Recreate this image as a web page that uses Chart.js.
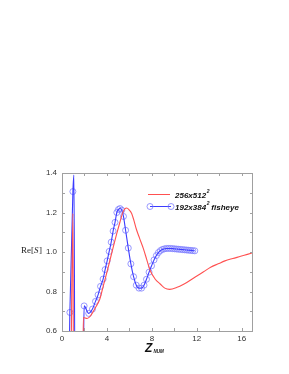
<!DOCTYPE html>
<html>
<head>
<meta charset="utf-8">
<script src="https://cdn.jsdelivr.net/npm/chart.js@4.4.1/dist/chart.umd.min.js"></script>
<style>
  html, body { margin: 0; padding: 0; background: #fff; }
  #wrap { position: relative; width: 289px; height: 374px; }
</style>
</head>
<body>
<div id="wrap"><canvas id="c" width="289" height="374"></canvas></div>
<script>
// 256x512^2 run (red, no markers); values below 0.6 run off the bottom of the plot
const redX = [0.80, 0.97, 1.02, 1.86, 1.90, 2.23, 2.53, 3.06, 3.36, 3.66, 3.96, 4.26, 4.56, 4.86, 5.16, 5.40, 5.61, 5.76, 5.95, 6.20, 6.40, 6.62, 6.90, 7.25, 7.55, 7.85, 8.30, 8.74, 9.15, 9.58, 10.24, 10.70, 11.14, 12.04, 12.60, 13.23, 13.90, 14.50, 15.20, 15.90, 16.50, 17.00];
const redY = [0.40, 1.195, 0.40, 0.40, 0.668, 0.663, 0.676, 0.727, 0.761, 0.825, 0.889, 0.957, 1.025, 1.090, 1.152, 1.198, 1.220, 1.223, 1.215, 1.195, 1.160, 1.115, 1.070, 1.016, 0.960, 0.906, 0.862, 0.838, 0.817, 0.811, 0.821, 0.833, 0.847, 0.880, 0.900, 0.923, 0.940, 0.955, 0.967, 0.978, 0.988, 0.996];

// 192x384^2 fisheye run: line-only points (spikes) and the sampled points drawn with circles
const spikeX = [0.00, 0.02, 0.62, 1.06, 1.15, 1.88];
const spikeY = [0.646, 0.40, 0.40, 1.39, 0.40, 0.40];
const circleX = [0.70, 0.97, 1.97, 2.38, 2.71, 2.98, 3.21, 3.43, 3.66, 3.84, 4.02, 4.20, 4.38, 4.55, 4.72, 4.88, 5.02, 5.16, 5.32, 5.47, 5.66, 5.90, 6.13, 6.37, 6.61, 6.85, 7.08, 7.30, 7.52, 7.75, 7.97, 8.19, 8.40, 8.58, 8.76, 8.94, 9.12, 9.30, 9.48, 9.66, 9.84, 10.02, 10.20, 10.38, 10.56, 10.74, 10.92, 11.10, 11.28, 11.46, 11.64, 11.82];
const circleY = [0.694, 1.306, 0.727, 0.689, 0.711, 0.750, 0.783, 0.826, 0.863, 0.911, 0.955, 1.003, 1.050, 1.106, 1.150, 1.200, 1.215, 1.220, 1.212, 1.180, 1.110, 1.020, 0.940, 0.875, 0.832, 0.817, 0.817, 0.832, 0.862, 0.898, 0.930, 0.960, 0.982, 0.997, 1.007, 1.013, 1.016, 1.018, 1.018, 1.018, 1.017, 1.016, 1.015, 1.014, 1.013, 1.012, 1.011, 1.010, 1.009, 1.008, 1.007, 1.006];

const xTicks = [0, 4, 8, 12, 16];
const yTicks = [0.6, 0.8, 1, 1.2, 1.4];
const xMinor = [2, 4, 6, 8, 10, 12, 14, 16];
const yMinor = [0.7, 0.8, 0.9, 1.0, 1.1, 1.2, 1.3];

const RED = "#ff5050";
const BLUE = "#3c3cff";
const CIRCLE = "rgba(120,120,255,0.75)";
const TICK_FONT = { family: "Liberation Sans, Arial, sans-serif", size: 8 };

function pts(xs, ys) {
  return xs.map((x, i) => ({ x: x, y: ys[i] }));
}

const blueLine = pts(spikeX, spikeY).concat(pts(circleX, circleY)).sort((a, b) => a.x - b.x);

// frame, inward ticks, legend and axis titles
const decor = {
  id: "decor",
  afterDraw(chart) {
    const ctx = chart.ctx;
    const a = chart.chartArea;
    const xs = chart.scales.x, ys = chart.scales.y;
    ctx.save();
    ctx.strokeStyle = "#a0a0a0";
    ctx.lineWidth = 1;
    ctx.strokeRect(a.left + 0.5, a.top + 0.5, a.right - a.left - 1, a.bottom - a.top);
    ctx.beginPath();
    xMinor.forEach(v => {
      const p = Math.round(xs.getPixelForValue(v)) + 0.5;
      ctx.moveTo(p, a.bottom); ctx.lineTo(p, a.bottom - 3);
      ctx.moveTo(p, a.top); ctx.lineTo(p, a.top + 3);
    });
    yMinor.forEach(v => {
      const p = Math.round(ys.getPixelForValue(v)) + 0.5;
      ctx.moveTo(a.left, p); ctx.lineTo(a.left + 3, p);
      ctx.moveTo(a.right, p); ctx.lineTo(a.right - 3, p);
    });
    ctx.stroke();

    // legend
    const lf = "italic bold 8px Liberation Sans, Arial, sans-serif";
    const sf = "italic bold 5px Liberation Sans, Arial, sans-serif";
    ctx.textBaseline = "alphabetic";
    ctx.fillStyle = "#111";
    ctx.strokeStyle = RED;
    ctx.beginPath(); ctx.moveTo(148, 194.5); ctx.lineTo(170, 194.5); ctx.stroke();
    ctx.font = lf; ctx.fillText("256x512", 175, 197.5);
    let w = ctx.measureText("256x512").width;
    ctx.font = sf; ctx.fillText("2", 175 + w + 0.5, 193);

    ctx.strokeStyle = BLUE;
    ctx.beginPath(); ctx.moveTo(150, 206.5); ctx.lineTo(171, 206.5); ctx.stroke();
    ctx.strokeStyle = CIRCLE;
    [150, 171].forEach(cx => { ctx.beginPath(); ctx.arc(cx, 206.5, 3, 0, Math.PI * 2); ctx.stroke(); });
    ctx.font = lf; ctx.fillText("192x384", 175, 209.5);
    w = ctx.measureText("192x384").width;
    ctx.font = sf; ctx.fillText("2", 175 + w + 0.5, 205);
    ctx.font = lf; ctx.fillText(" fisheye", 175 + w + 3, 209.5);

    // y title: Re[S]
    ctx.fillStyle = "#222";
    ctx.font = "9px Liberation Serif, Times New Roman, serif";
    let x = 21;
    ctx.fillText("Re[", x, 253); x += ctx.measureText("Re[").width;
    ctx.font = "italic 9px Liberation Serif, Times New Roman, serif";
    ctx.fillText("S", x, 253); x += ctx.measureText("S").width;
    ctx.font = "9px Liberation Serif, Times New Roman, serif";
    ctx.fillText("]", x + 0.5, 253);

    // x title: Z_NUM
    ctx.fillStyle = "#111";
    ctx.font = "italic bold 12px Liberation Sans, Arial, sans-serif";
    ctx.fillText("Z", 145, 352);
    ctx.font = "italic bold 4.5px Liberation Sans, Arial, sans-serif";
    ctx.fillText("NUM", 153.5, 353);
    ctx.restore();
  }
};

new Chart(document.getElementById("c"), {
  type: "scatter",
  data: {
    datasets: [
      {
        label: "256x512^2",
        data: pts(redX, redY),
        showLine: true,
        borderColor: RED,
        backgroundColor: RED,
        borderWidth: 1.1,
        pointRadius: 0,
        cubicInterpolationMode: "monotone",
      },
      {
        label: "192x384^2 fisheye",
        data: blueLine,
        showLine: true,
        borderColor: BLUE,
        backgroundColor: BLUE,
        borderWidth: 1.1,
        pointRadius: 0,
        cubicInterpolationMode: "monotone",
      },
      {
        label: "192x384^2 fisheye points",
        data: pts(circleX, circleY),
        showLine: false,
        pointStyle: "circle",
        pointRadius: 3,
        pointBorderWidth: 1,
        pointBorderColor: CIRCLE,
        pointBackgroundColor: "rgba(255,255,255,0)",
      },
    ],
  },
  options: {
    animation: false,
    responsive: false,
    devicePixelRatio: 1,
    layout: { padding: { top: 173, right: 36, left: 0, bottom: 0 } },
    plugins: { legend: { display: false }, tooltip: { enabled: false } },
    scales: {
      x: {
        type: "linear",
        min: 0,
        max: 17,
        afterBuildTicks: s => { s.ticks = xTicks.map(v => ({ value: v })); },
        afterFit: s => { s.height = 43; },
        ticks: { font: TICK_FONT, color: "#333", padding: 3, maxRotation: 0 },
        grid: { display: false, drawTicks: false },
        border: { display: false },
      },
      y: {
        min: 0.6,
        max: 1.4,
        afterBuildTicks: s => { s.ticks = yTicks.map(v => ({ value: v })); },
        afterFit: s => { s.width = 62; },
        ticks: { font: TICK_FONT, color: "#333", padding: 5 },
        grid: { display: false, drawTicks: false },
        border: { display: false },
      },
    },
  },
  plugins: [decor],
});
</script>
</body>
</html>
